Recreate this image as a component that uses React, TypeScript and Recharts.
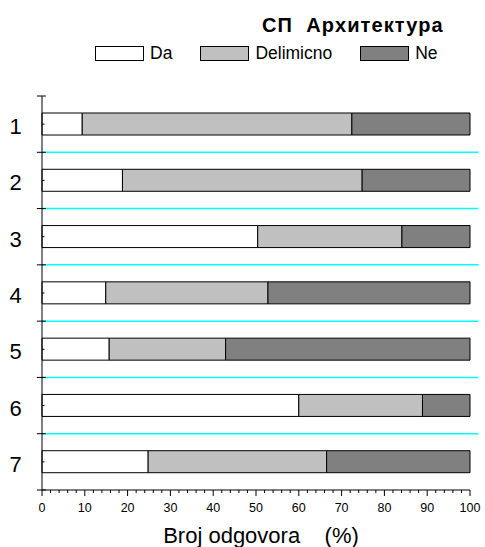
import React from "react";
import { Bar, BarChart, Legend, ReferenceLine, XAxis, YAxis } from "recharts";

const REDOVI = ["1", "2", "3", "4", "5", "6", "7"];
const DA = [9.4, 18.8, 50.4, 14.9, 15.7, 60.0, 24.8];
const DELIMICNO = [63.0, 56.0, 33.7, 37.9, 27.2, 28.9, 41.7];
const NE = [27.6, 25.2, 15.9, 47.2, 57.1, 11.1, 33.5];
const X_GLAVNI = [0, 10, 20, 30, 40, 50, 60, 70, 80, 90, 100];
const X_TIKOVI = Array.from({ length: 51 }, (_, i) => i * 2);

const data = REDOVI.map((red, i) => ({ red, da: DA[i], delimicno: DELIMICNO[i], ne: NE[i] }));

const FONT = '"Liberation Sans", Arial, sans-serif';
const POSLEDNJI = REDOVI[REDOVI.length - 1];

function XTick({ x, y, payload }: any) {
  const glavni = X_GLAVNI.includes(payload.value);
  return (
    <g>
      <line x1={x} x2={x} y1={y} y2={y + (glavni ? 6 : 3)} stroke="#000" />
      {glavni && (
        <text x={x} y={y + 22} textAnchor="middle" fontSize={12.5} fontFamily={FONT} fill="#000">
          {payload.value}
        </text>
      )}
    </g>
  );
}

function YTick({ x, y, payload }: any) {
  return (
    <g>
      <line x1={x} x2={x + 2.5} y1={y} y2={y} stroke="#000" />
      <text x={x - 26.5} y={y + 10} textAnchor="middle" fontSize={22} fontFamily={FONT} fill="#000">
        {payload.value}
      </text>
    </g>
  );
}

function NaslovOse({ viewBox }: any) {
  const cx = viewBox.x + viewBox.width / 2 + 5;
  return (
    <text x={cx} y={viewBox.y + 53} textAnchor="middle" fontSize={22} fontFamily={FONT} fill="#000" style={{ whiteSpace: "pre" }}>
      {"Broj odgovora    (%)"}
    </text>
  );
}

function Legenda({ payload }: any) {
  return (
    <div style={{ display: "flex", alignItems: "center", fontFamily: FONT, fontSize: 17.5, lineHeight: "15px" }}>
      {(payload || []).map((p: any) => (
        <div key={p.value} style={{ display: "flex", alignItems: "center", marginRight: 28 }}>
          <span style={{ width: 49, height: 15, boxSizing: "border-box", border: "1px solid #000", background: p.color, marginRight: 6 }} />
          <span>{p.value}</span>
        </div>
      ))}
    </div>
  );
}

export default function App() {
  return (
    <div style={{ position: "relative", width: 485, height: 547, background: "#fff" }}>
      <style>{`body{margin:0}`}</style>
      <div
        style={{
          position: "absolute",
          left: 262,
          top: 14,
          fontFamily: FONT,
          fontWeight: "bold",
          fontSize: 20,
          letterSpacing: 1.1,
          whiteSpace: "pre",
          zIndex: 2,
        }}
      >
        {"СП  Архитектура"}
      </div>
      <BarChart
        width={485}
        height={547}
        data={data}
        layout="vertical"
        margin={{ top: 96, right: 15, bottom: 0, left: 0 }}
        barSize={22}
      >
        <XAxis
          type="number"
          domain={[0, 100]}
          ticks={X_TIKOVI}
          interval={0}
          tick={<XTick />}
          tickLine={false}
          tickSize={0}
          tickMargin={0}
          axisLine={{ stroke: "#000" }}
          height={57}
          label={{ content: (p: any) => <NaslovOse {...p} /> }}
        />
        <YAxis
          type="category"
          dataKey="red"
          width={42}
          tick={<YTick />}
          tickLine={false}
          tickSize={0}
          tickMargin={0}
          axisLine={{ stroke: "#000" }}
        />
        <Legend
          verticalAlign="middle"
          align="center"
          layout="horizontal"
          wrapperStyle={{ top: 46, left: 95, width: "auto", height: 15 }}
          content={<Legenda />}
        />
        {REDOVI.slice(1).map((red) => (
          <ReferenceLine
            key={"c" + red}
            position="start"
            segment={[{ x: 0, y: red }, { x: 102, y: red }]}
            stroke="#00ffff"
            strokeWidth={1.5}
            ifOverflow="visible"
          />
        ))}
        {REDOVI.map((red) => (
          <ReferenceLine
            key={"t" + red}
            position="start"
            segment={[{ x: -1.2, y: red }, { x: 0.9, y: red }]}
            stroke="#000"
            ifOverflow="visible"
          />
        ))}
        <ReferenceLine
          position="end"
          segment={[{ x: -1.2, y: POSLEDNJI }, { x: 0.9, y: POSLEDNJI }]}
          stroke="#000"
          ifOverflow="visible"
        />
        <Bar dataKey="da" name="Da" stackId="a" fill="#ffffff" stroke="#000" strokeWidth={1} isAnimationActive={false} />
        <Bar dataKey="delimicno" name="Delimicno" stackId="a" fill="#c0c0c0" stroke="#000" strokeWidth={1} isAnimationActive={false} />
        <Bar dataKey="ne" name="Ne" stackId="a" fill="#808080" stroke="#000" strokeWidth={1} isAnimationActive={false} />
      </BarChart>
    </div>
  );
}
